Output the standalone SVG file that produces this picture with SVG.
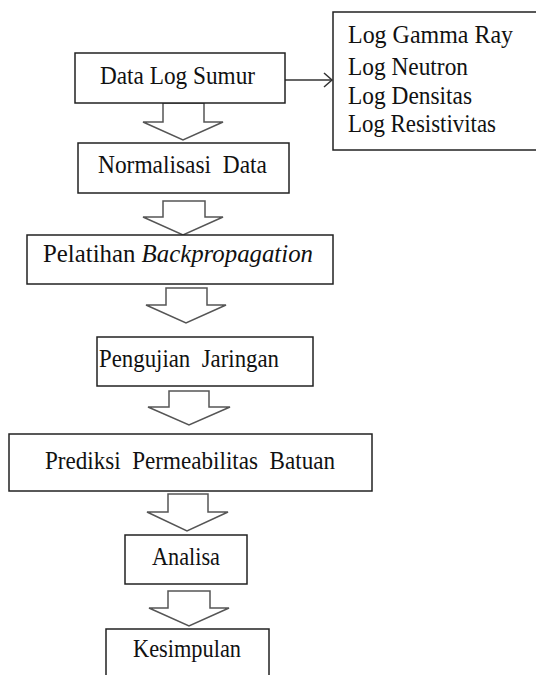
<svg xmlns="http://www.w3.org/2000/svg" width="536" height="675" viewBox="0 0 536 675">
<style>
.box{fill:#fff;stroke:#222;stroke-width:1.5}
.blk{fill:#fff;stroke:#555;stroke-width:1.5;stroke-linejoin:miter}
.t{font-family:"Liberation Serif","Times New Roman",serif;font-size:25px;fill:#111}
.ln{fill:none;stroke:#333;stroke-width:1.5}
</style>
<rect width="536" height="675" fill="#fff"/>
<g id="connectors">
<line class="ln" x1="285" y1="80" x2="332" y2="80"/>
<polyline class="ln" points="324,73 332,80 324,87"/>
<polygon class="blk" points="163,103 204,103 204,122 223,122 183,140 143,122 163,122"/>
<polygon class="blk" points="163,201 205,201 205,217 223,217 183,235 143,217 163,217"/>
<polygon class="blk" points="166,288 207,288 207,305 226,305 186,323 146,305 166,305"/>
<polygon class="blk" points="169,391 209,391 209,407 230,407 189,425 148,407 169,407"/>
<polygon class="blk" points="168,494 208,494 208,512 228,512 187,531 147,512 168,512"/>
<polygon class="blk" points="168,591 210,591 210,608 229,608 189,626 149,608 168,608"/>
</g>
<g id="n1">
<rect class="box" x="75" y="53" width="210" height="50"/>
<text class="t" x="100" y="84" textLength="155" lengthAdjust="spacingAndGlyphs">Data Log Sumur</text>
</g>
<g id="logs">
<rect class="box" x="333" y="12" width="210" height="138"/>
<text class="t" x="348" y="43" textLength="165" lengthAdjust="spacingAndGlyphs">Log Gamma  Ray</text>
<text class="t" x="348" y="75" textLength="120" lengthAdjust="spacingAndGlyphs">Log Neutron</text>
<text class="t" x="348" y="104" textLength="124" lengthAdjust="spacingAndGlyphs">Log Densitas</text>
<text class="t" x="348" y="132" textLength="148" lengthAdjust="spacingAndGlyphs">Log Resistivitas</text>
</g>
<g id="n2">
<rect class="box" x="78" y="143" width="211" height="50"/>
<text class="t" x="98" y="173" textLength="169" lengthAdjust="spacingAndGlyphs" xml:space="preserve">Normalisasi  Data</text>
</g>
<g id="n3">
<rect class="box" x="27" y="235" width="306" height="49"/>
<text class="t" x="43" y="262" textLength="270" lengthAdjust="spacingAndGlyphs">Pelatihan <tspan font-style="italic">Backpropagation</tspan></text>
</g>
<g id="n4">
<rect class="box" x="97" y="337" width="216" height="49"/>
<text class="t" x="99" y="367" textLength="180" lengthAdjust="spacingAndGlyphs" xml:space="preserve">Pengujian  Jaringan</text>
</g>
<g id="n5">
<rect class="box" x="9" y="434" width="363" height="57"/>
<text class="t" x="45" y="469" textLength="290" lengthAdjust="spacingAndGlyphs" xml:space="preserve">Prediksi  Permeabilitas  Batuan</text>
</g>
<g id="n6">
<rect class="box" x="125" y="535" width="122" height="49"/>
<text class="t" x="152" y="565" textLength="68" lengthAdjust="spacingAndGlyphs">Analisa</text>
</g>
<g id="n7">
<rect class="box" x="106" y="629" width="163" height="60"/>
<text class="t" x="133" y="657" textLength="108" lengthAdjust="spacingAndGlyphs">Kesimpulan</text>
</g>
</svg>
